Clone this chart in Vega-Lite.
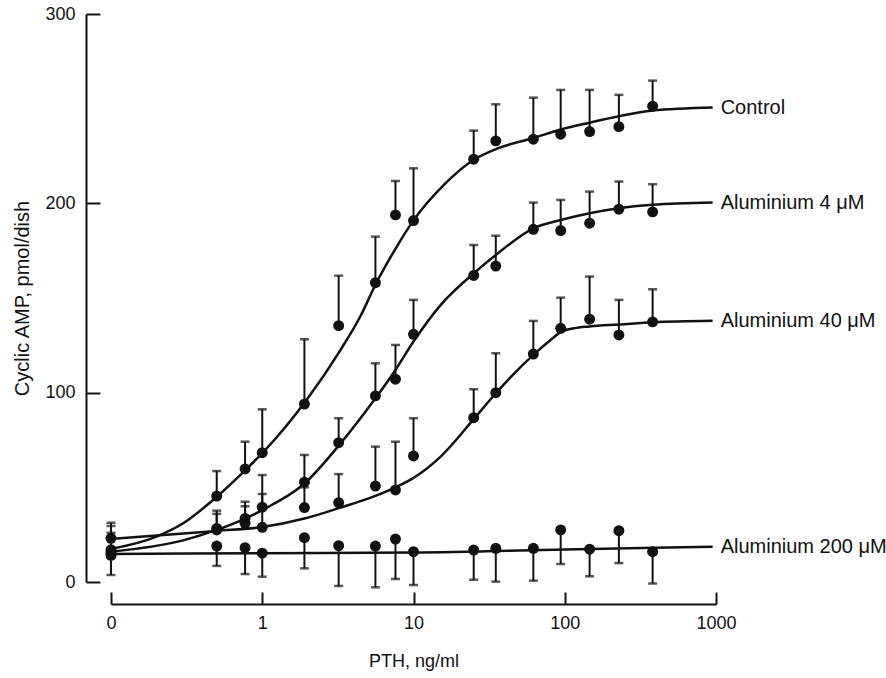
{
  "$schema": "https://vega.github.io/schema/vega-lite/v6.json",
  "width": 605,
  "height": 568,
  "autosize": {"type": "none"},
  "padding": {"left": 111, "top": 14, "right": 170, "bottom": 96},
  "background": "white",
  "config": {
    "view": {"stroke": null},
    "font": "Liberation Sans",
    "axis": {
      "grid": false,
      "domainColor": "#111",
      "domainWidth": 2,
      "tickColor": "#111",
      "tickWidth": 2,
      "labelColor": "#111",
      "labelFont": "Liberation Sans",
      "labelFontSize": 18,
      "titleColor": "#111",
      "titleFont": "Liberation Sans",
      "titleFontSize": 18,
      "titleFontWeight": "normal",
      "labelFlush": false,
      "labelBound": false,
      "labelOverlap": false
    }
  },
  "datasets": {
    "points": [
      {"series": "Control", "pth": 0.1, "camp": 17, "err": 29.6},
      {"series": "Control", "pth": 0.5, "camp": 45.4, "err": 58.6},
      {"series": "Control", "pth": 0.77, "camp": 59.7, "err": 74.1},
      {"series": "Control", "pth": 1, "camp": 68.3, "err": 91.2},
      {"series": "Control", "pth": 1.9, "camp": 94, "err": 128.2},
      {"series": "Control", "pth": 3.2, "camp": 135.4, "err": 161.8},
      {"series": "Control", "pth": 5.6, "camp": 158.1, "err": 182.4},
      {"series": "Control", "pth": 7.6, "camp": 193.9, "err": 211.8},
      {"series": "Control", "pth": 10, "camp": 190.9, "err": 218.5},
      {"series": "Control", "pth": 25, "camp": 223.3, "err": 238.4},
      {"series": "Control", "pth": 35, "camp": 233, "err": 252.3},
      {"series": "Control", "pth": 62, "camp": 233.9, "err": 255.8},
      {"series": "Control", "pth": 94, "camp": 236.5, "err": 259.9},
      {"series": "Control", "pth": 146, "camp": 237.9, "err": 259.9},
      {"series": "Control", "pth": 228, "camp": 240.5, "err": 257.3},
      {"series": "Control", "pth": 381, "camp": 251.3, "err": 264.8},
      {"series": "Aluminium 4", "pth": 0.1, "camp": 15.5, "err": 26},
      {"series": "Aluminium 4", "pth": 0.5, "camp": 28.3, "err": 37.7},
      {"series": "Aluminium 4", "pth": 0.77, "camp": 33.6, "err": 42.4},
      {"series": "Aluminium 4", "pth": 1, "camp": 39.5, "err": 56.5},
      {"series": "Aluminium 4", "pth": 1.9, "camp": 52.7, "err": 67.1},
      {"series": "Aluminium 4", "pth": 3.2, "camp": 73.6, "err": 86.5},
      {"series": "Aluminium 4", "pth": 5.6, "camp": 98.3, "err": 115.5},
      {"series": "Aluminium 4", "pth": 7.6, "camp": 107.1, "err": 125.2},
      {"series": "Aluminium 4", "pth": 10, "camp": 130.8, "err": 149},
      {"series": "Aluminium 4", "pth": 25, "camp": 161.9, "err": 178},
      {"series": "Aluminium 4", "pth": 35, "camp": 166.9, "err": 182.9},
      {"series": "Aluminium 4", "pth": 62, "camp": 186.3, "err": 200.4},
      {"series": "Aluminium 4", "pth": 94, "camp": 185.6, "err": 201.8},
      {"series": "Aluminium 4", "pth": 146, "camp": 189.5, "err": 206.2},
      {"series": "Aluminium 4", "pth": 228, "camp": 196.9, "err": 211.5},
      {"series": "Aluminium 4", "pth": 381, "camp": 195.5, "err": 210.1},
      {"series": "Aluminium 40", "pth": 0.1, "camp": 23.1, "err": 31.3},
      {"series": "Aluminium 40", "pth": 0.5, "camp": 27.5, "err": 36},
      {"series": "Aluminium 40", "pth": 0.77, "camp": 31, "err": 40},
      {"series": "Aluminium 40", "pth": 1, "camp": 28.9, "err": 46.5},
      {"series": "Aluminium 40", "pth": 1.9, "camp": 39.3, "err": 50},
      {"series": "Aluminium 40", "pth": 3.2, "camp": 41.9, "err": 57},
      {"series": "Aluminium 40", "pth": 5.6, "camp": 50.7, "err": 71.5},
      {"series": "Aluminium 40", "pth": 7.6, "camp": 48.6, "err": 74.1},
      {"series": "Aluminium 40", "pth": 10, "camp": 66.6, "err": 86.5},
      {"series": "Aluminium 40", "pth": 25, "camp": 86.8, "err": 101.8},
      {"series": "Aluminium 40", "pth": 35, "camp": 100, "err": 120.8},
      {"series": "Aluminium 40", "pth": 62, "camp": 120.4, "err": 137.9},
      {"series": "Aluminium 40", "pth": 94, "camp": 134, "err": 150.2},
      {"series": "Aluminium 40", "pth": 146, "camp": 138.8, "err": 161.3},
      {"series": "Aluminium 40", "pth": 228, "camp": 130.5, "err": 149},
      {"series": "Aluminium 40", "pth": 381, "camp": 137.4, "err": 154.6},
      {"series": "Aluminium 200", "pth": 0.1, "camp": 14, "err": 3.7},
      {"series": "Aluminium 200", "pth": 0.5, "camp": 19, "err": 8.5},
      {"series": "Aluminium 200", "pth": 0.77, "camp": 18.1, "err": 4.2},
      {"series": "Aluminium 200", "pth": 1, "camp": 15.2, "err": 2.8},
      {"series": "Aluminium 200", "pth": 1.9, "camp": 23.4, "err": 7.2},
      {"series": "Aluminium 200", "pth": 3.2, "camp": 19.2, "err": -2.1},
      {"series": "Aluminium 200", "pth": 5.6, "camp": 19, "err": -2.8},
      {"series": "Aluminium 200", "pth": 7.6, "camp": 22.7, "err": 1.6},
      {"series": "Aluminium 200", "pth": 10, "camp": 16, "err": -1.6},
      {"series": "Aluminium 200", "pth": 25, "camp": 16.9, "err": 1.2},
      {"series": "Aluminium 200", "pth": 35, "camp": 17.8, "err": 0.2},
      {"series": "Aluminium 200", "pth": 62, "camp": 17.8, "err": 0.7},
      {"series": "Aluminium 200", "pth": 94, "camp": 27.5, "err": 9.5},
      {"series": "Aluminium 200", "pth": 146, "camp": 17.3, "err": 3},
      {"series": "Aluminium 200", "pth": 228, "camp": 27.1, "err": 10},
      {"series": "Aluminium 200", "pth": 381, "camp": 16, "err": -0.8}
    ],
    "curves": [
      {"series": "Control", "pth": 0.1, "camp": 17.5},
      {"series": "Control", "pth": 0.2, "camp": 24},
      {"series": "Control", "pth": 0.3, "camp": 31},
      {"series": "Control", "pth": 0.5, "camp": 45},
      {"series": "Control", "pth": 0.77, "camp": 59},
      {"series": "Control", "pth": 1, "camp": 68},
      {"series": "Control", "pth": 2, "camp": 97},
      {"series": "Control", "pth": 3.2, "camp": 121},
      {"series": "Control", "pth": 4.5, "camp": 141},
      {"series": "Control", "pth": 5.6, "camp": 157},
      {"series": "Control", "pth": 7.6, "camp": 176},
      {"series": "Control", "pth": 10, "camp": 191},
      {"series": "Control", "pth": 16, "camp": 210},
      {"series": "Control", "pth": 25, "camp": 223},
      {"series": "Control", "pth": 36, "camp": 229},
      {"series": "Control", "pth": 62, "camp": 234.5},
      {"series": "Control", "pth": 94, "camp": 239},
      {"series": "Control", "pth": 146, "camp": 242.6},
      {"series": "Control", "pth": 228, "camp": 246},
      {"series": "Control", "pth": 381, "camp": 249},
      {"series": "Control", "pth": 950, "camp": 250.6},
      {"series": "Aluminium 4", "pth": 0.1, "camp": 16},
      {"series": "Aluminium 4", "pth": 0.3, "camp": 22},
      {"series": "Aluminium 4", "pth": 0.5, "camp": 27.5},
      {"series": "Aluminium 4", "pth": 0.77, "camp": 33.5},
      {"series": "Aluminium 4", "pth": 1, "camp": 38},
      {"series": "Aluminium 4", "pth": 1.9, "camp": 52},
      {"series": "Aluminium 4", "pth": 3.2, "camp": 72},
      {"series": "Aluminium 4", "pth": 5.6, "camp": 97},
      {"series": "Aluminium 4", "pth": 7.6, "camp": 112},
      {"series": "Aluminium 4", "pth": 10, "camp": 127},
      {"series": "Aluminium 4", "pth": 15, "camp": 146},
      {"series": "Aluminium 4", "pth": 25, "camp": 163},
      {"series": "Aluminium 4", "pth": 35, "camp": 172.7},
      {"series": "Aluminium 4", "pth": 62, "camp": 186.8},
      {"series": "Aluminium 4", "pth": 94, "camp": 191.2},
      {"series": "Aluminium 4", "pth": 146, "camp": 194.8},
      {"series": "Aluminium 4", "pth": 228, "camp": 197.4},
      {"series": "Aluminium 4", "pth": 381, "camp": 199.2},
      {"series": "Aluminium 4", "pth": 950, "camp": 200.4},
      {"series": "Aluminium 40", "pth": 0.1, "camp": 22.7},
      {"series": "Aluminium 40", "pth": 0.5, "camp": 27},
      {"series": "Aluminium 40", "pth": 1, "camp": 29},
      {"series": "Aluminium 40", "pth": 1.9, "camp": 33.5},
      {"series": "Aluminium 40", "pth": 3.2, "camp": 39},
      {"series": "Aluminium 40", "pth": 5.6, "camp": 45.5},
      {"series": "Aluminium 40", "pth": 7.6, "camp": 50},
      {"series": "Aluminium 40", "pth": 10, "camp": 55},
      {"series": "Aluminium 40", "pth": 15, "camp": 66},
      {"series": "Aluminium 40", "pth": 25, "camp": 86},
      {"series": "Aluminium 40", "pth": 35, "camp": 99.7},
      {"series": "Aluminium 40", "pth": 62, "camp": 120},
      {"series": "Aluminium 40", "pth": 81, "camp": 128},
      {"series": "Aluminium 40", "pth": 94, "camp": 132},
      {"series": "Aluminium 40", "pth": 115, "camp": 134},
      {"series": "Aluminium 40", "pth": 146, "camp": 135},
      {"series": "Aluminium 40", "pth": 228, "camp": 136},
      {"series": "Aluminium 40", "pth": 381, "camp": 137.2},
      {"series": "Aluminium 40", "pth": 950, "camp": 138},
      {"series": "Aluminium 200", "pth": 0.1, "camp": 14.8},
      {"series": "Aluminium 200", "pth": 1, "camp": 15.2},
      {"series": "Aluminium 200", "pth": 10, "camp": 15.6},
      {"series": "Aluminium 200", "pth": 100, "camp": 17.2},
      {"series": "Aluminium 200", "pth": 950, "camp": 18.6}
    ],
    "labels": [
      {"label": "Control", "pth": 950, "camp": 250.6},
      {"label": "Aluminium 4 μM", "pth": 950, "camp": 200.4},
      {"label": "Aluminium 40 μM", "pth": 950, "camp": 138},
      {"label": "Aluminium 200 μM", "pth": 950, "camp": 18.6}
    ]
  },
  "encoding": {
    "x": {
      "field": "pth",
      "type": "quantitative",
      "title": "PTH, ng/ml",
      "scale": {"type": "log", "domain": [0.1, 1000], "nice": false},
      "axis": {
        "values": [0.1, 1, 10, 100, 1000],
        "labelExpr": "datum.value < 0.5 ? '0' : format(datum.value, 'd')",
        "offset": 22,
        "tickSize": -12,
        "labelPadding": 22,
        "titlePadding": 20
      }
    },
    "y": {
      "field": "camp",
      "type": "quantitative",
      "title": "Cyclic AMP, pmol/dish",
      "scale": {"domain": [0, 300], "nice": false, "zero": true},
      "axis": {
        "values": [0, 100, 200, 300],
        "offset": 25,
        "tickSize": -14,
        "labelPadding": 25,
        "titlePadding": 12,
        "titleFontSize": 20
      }
    }
  },
  "layer": [
    {
      "data": {"name": "curves"},
      "mark": {"type": "line", "interpolate": "monotone", "color": "#111", "strokeWidth": 2.5},
      "encoding": {"detail": {"field": "series"}}
    },
    {
      "data": {"name": "points"},
      "mark": {"type": "rule", "color": "#111", "strokeWidth": 2},
      "encoding": {"y2": {"field": "err"}}
    },
    {
      "data": {"name": "points"},
      "mark": {"type": "tick", "orient": "horizontal", "size": 9, "thickness": 2.5, "color": "#111"},
      "encoding": {"y": {"field": "err", "type": "quantitative", "title": "Cyclic AMP, pmol/dish"}}
    },
    {
      "data": {"name": "points"},
      "mark": {"type": "circle", "size": 120, "opacity": 1, "color": "#111"},
      "encoding": {}
    },
    {
      "data": {"name": "labels"},
      "mark": {"type": "text", "align": "left", "baseline": "middle", "dx": 8, "fontSize": 20, "color": "#111", "font": "Liberation Sans"},
      "encoding": {"text": {"field": "label"}}
    }
  ]
}
